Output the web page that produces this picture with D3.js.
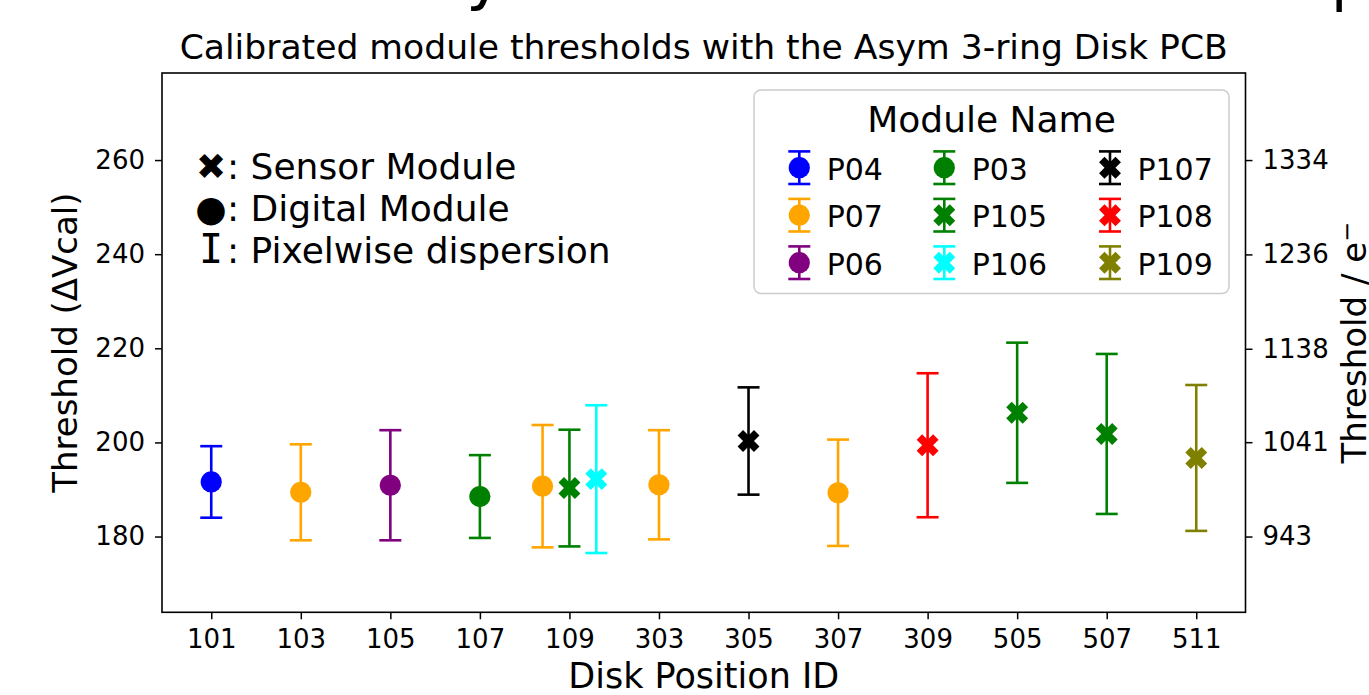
<!DOCTYPE html>
<html>
<head>
<meta charset="utf-8">
<script src="https://cdn.jsdelivr.net/npm/d3@7"></script>
<style>
  body { margin: 0; background: #fff; }
  svg { display: block; font-family: "DejaVu Sans", sans-serif; }
</style>
</head>
<body>
<div id="chart"></div>
<script>
// categories on the x axis
const positions = ["101", "103", "105", "107", "109", "303", "305", "307", "309", "505", "507", "511"];

// modules, their kind and colour (legend order, column by column)
const modules = ["P04", "P07", "P06", "P03", "P105", "P106", "P107", "P108", "P109"];
const moduleKind = ["digital", "digital", "digital", "digital", "sensor", "sensor", "sensor", "sensor", "sensor"];
const moduleColors = ["blue", "orange", "purple", "green", "green", "cyan", "black", "red", "olive"];

// measured points
const pointModule   = ["P04", "P07", "P06", "P03", "P07", "P105", "P106", "P07", "P107", "P07", "P108", "P105", "P105", "P109"];
const pointPosition = ["101", "103", "105", "107", "109", "109", "109", "303", "305", "307", "309", "505", "507", "511"];
const pointMean     = [191.6, 189.4, 190.9, 188.5, 190.7, 190.3, 192.2, 191.0, 200.3, 189.3, 199.4, 206.3, 201.8, 196.7];
const pointSpread   = [7.6, 10.2, 11.7, 8.8, 13.0, 12.4, 15.7, 11.6, 11.4, 11.3, 15.3, 14.9, 17.0, 15.5];

// axes
const yTicks = [180, 200, 220, 240, 260];
const yDomain = [163.9, 278.5];
const electronTicks = [943, 1041, 1138, 1236, 1334];
const toElectrons = v => 4.8875 * v + 63.25;

const width = 1369, height = 695;
const margin = {left: 162, right: 1369 - 1245.5, top: 73, bottom: 695 - 612.3};

const svg = d3.select("#chart").append("svg")
  .attr("width", width)
  .attr("height", height);

svg.append("rect").attr("width", width).attr("height", height).attr("fill", "#fff");

// bits of a slide heading cut off at the top edge
svg.append("text").attr("x", 466).attr("y", -2).style("font-size", "64px").text("y");
svg.append("text").attr("x", 1331).attr("y", -1).style("font-size", "60px").text("p");

const x = d3.scaleLinear()
  .domain([-0.55, positions.length - 1 + 0.55])
  .range([margin.left, width - margin.right]);

const y = d3.scaleLinear()
  .domain(yDomain)
  .range([height - margin.bottom, margin.top]);

const yRight = d3.scaleLinear()
  .domain(yDomain.map(toElectrons))
  .range(y.range());

// points, dodged when several modules share one position
const points = pointModule.map((m, i) => ({
  module: m,
  position: pointPosition[i],
  mean: pointMean[i],
  spread: pointSpread[i]
}));
const groups = d3.group(points, d => d.position);
points.forEach(p => {
  const g = groups.get(p.position);
  const k = g.indexOf(p);
  p.x = positions.indexOf(p.position) + (k - (g.length - 1) / 2) * 0.3;
});

const colorOf = m => moduleColors[modules.indexOf(m)];
const kindOf = m => moduleKind[modules.indexOf(m)];

const capHalf = 11;
const circleR = 10.6;
const crossSym = d3.symbol(d3.symbolCross, 300);

function drawMarker(sel, m) {
  if (kindOf(m) === "sensor") {
    sel.append("path")
      .attr("d", crossSym())
      .attr("transform", "rotate(45)")
      .attr("fill", colorOf(m));
  } else {
    sel.append("circle")
      .attr("r", circleR)
      .attr("fill", colorOf(m));
  }
}

// error bars
const pts = svg.append("g").selectAll("g")
  .data(points)
  .join("g");

pts.each(function(d) {
  const g = d3.select(this);
  const cx = x(d.x), c = colorOf(d.module);
  const top = y(d.mean + d.spread), bot = y(d.mean - d.spread);
  g.append("line").attr("x1", cx).attr("x2", cx).attr("y1", top).attr("y2", bot)
    .attr("stroke", c).attr("stroke-width", 2.6);
  [top, bot].forEach(yy => g.append("line")
    .attr("x1", cx - capHalf).attr("x2", cx + capHalf).attr("y1", yy).attr("y2", yy)
    .attr("stroke", c).attr("stroke-width", 2.6));
  const mk = g.append("g").attr("transform", `translate(${cx},${y(d.mean)})`);
  drawMarker(mk, d.module);
});

// axes
const xAxis = svg.append("g")
  .attr("transform", `translate(0,${height - margin.bottom})`)
  .call(d3.axisBottom(x)
    .tickValues(d3.range(positions.length))
    .tickFormat(i => positions[i])
    .tickSize(7).tickPadding(10).tickSizeOuter(0));

const yAxis = svg.append("g")
  .attr("transform", `translate(${margin.left},0)`)
  .call(d3.axisLeft(y).tickValues(yTicks).tickSize(7).tickPadding(10).tickSizeOuter(0));

const yAxisR = svg.append("g")
  .attr("transform", `translate(${width - margin.right},0)`)
  .call(d3.axisRight(yRight).tickValues(electronTicks).tickFormat(d3.format("d"))
    .tickSize(7).tickPadding(10).tickSizeOuter(0));

[xAxis, yAxis, yAxisR].forEach(a => {
  a.select(".domain").remove();
  a.selectAll(".tick line").attr("stroke", "#000").attr("stroke-width", 1.5);
  a.selectAll(".tick text").attr("fill", "#000")
    .style("font-family", "DejaVu Sans").style("font-size", "26px");
});

// frame
svg.append("rect")
  .attr("x", margin.left).attr("y", margin.top)
  .attr("width", width - margin.right - margin.left)
  .attr("height", height - margin.bottom - margin.top)
  .attr("fill", "none").attr("stroke", "#000").attr("stroke-width", 1.6);

// title and labels
svg.append("text")
  .attr("x", (margin.left + width - margin.right) / 2).attr("y", 59)
  .attr("text-anchor", "middle").style("font-size", "34.6px")
  .text("Calibrated module thresholds with the Asym 3-ring Disk PCB");

svg.append("text")
  .attr("x", (margin.left + width - margin.right) / 2).attr("y", 688)
  .attr("text-anchor", "middle").style("font-size", "35px")
  .text("Disk Position ID");

svg.append("text")
  .attr("transform", `translate(77,${(margin.top + height - margin.bottom) / 2}) rotate(-90)`)
  .attr("text-anchor", "middle").style("font-size", "34px")
  .text("Threshold (ΔVcal)");

const rl = svg.append("text")
  .attr("transform", `translate(1366,${(margin.top + height - margin.bottom) / 2}) rotate(-90)`)
  .attr("text-anchor", "middle").style("font-size", "34px");
rl.append("tspan").text("Threshold / e");
rl.append("tspan").attr("dy", "-0.45em").style("font-size", "24px").text("−");

// marker key, top left
const key = [
  {glyph: "✖", font: "DejaVu Sans", size: 36, text: ": Sensor Module"},
  {glyph: "●", font: "DejaVu Sans", size: 36, text: ": Digital Module"},
  {glyph: "I", font: "DejaVu Sans Mono", size: 40, text: ": Pixelwise dispersion"}
];
key.forEach((k, i) => {
  const yy = 179 + i * 42;
  svg.append("text").attr("x", 211).attr("y", yy).attr("text-anchor", "middle")
    .style("font-family", k.font).style("font-size", k.size + "px").text(k.glyph);
  svg.append("text").attr("x", 227).attr("y", yy).style("font-size", "36px").text(k.text);
});

// legend
const lg = svg.append("g");
lg.append("rect")
  .attr("x", 754).attr("y", 90).attr("width", 475).attr("height", 203.5)
  .attr("rx", 7).attr("fill", "#fff").attr("fill-opacity", 0.8)
  .attr("stroke", "#cccccc").attr("stroke-width", 1.5);
lg.append("text").attr("x", 991.5).attr("y", 131.5).attr("text-anchor", "middle")
  .style("font-size", "36px").text("Module Name");

const colX = [799.3, 944.3, 1110];
modules.forEach((m, i) => {
  const col = Math.floor(i / 3), row = i % 3;
  const g = lg.append("g").attr("transform", `translate(${colX[col]},${167.7 + row * 47.5})`);
  const c = colorOf(m);
  g.append("line").attr("y1", -16.3).attr("y2", 16.3).attr("stroke", c).attr("stroke-width", 2.6);
  [-16.3, 16.3].forEach(yy => g.append("line")
    .attr("x1", -capHalf).attr("x2", capHalf).attr("y1", yy).attr("y2", yy)
    .attr("stroke", c).attr("stroke-width", 2.6));
  drawMarker(g, m);
  g.append("text").attr("x", 27.4).attr("y", 12).style("font-size", "30px").text(m);
});
</script>
</body>
</html>
